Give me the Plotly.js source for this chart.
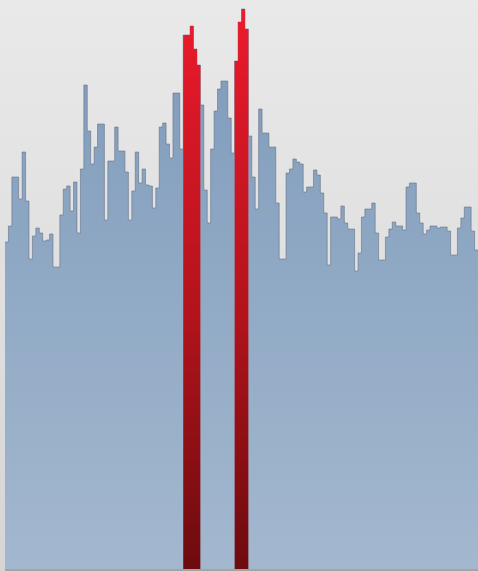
<!DOCTYPE html>
<html>
<head>
<meta charset="utf-8">
<script src="https://cdn.plot.ly/plotly-3.0.1.min.js"></script>
<style>
  html, body { margin: 0; padding: 0; }
  #chart { width: 478px; height: 571px; background: linear-gradient(#e9e9e9, #d6d6d6); }
</style>
</head>
<body>
<div id="chart"></div>
<script>
// Bin indices (categories)
const bins = Array.from({length: 138}, (_, i) => i);

// Bar values
const counts = [
  327, 343, 392, 392, 370, 417, 368, 310, 333, 341,
  336, 328, 329, 335, 302, 302, 354, 380, 383, 358,
  387, 336, 400, 484, 438, 405, 422, 445, 445, 349,
  408, 408, 442, 418, 418, 397, 349, 378, 417, 386,
  400, 384, 383, 361, 381, 442, 446, 425, 411, 476,
  476, 420, 534, 534, 543, 520, 504, 464, 379, 346,
  420, 458, 480, 488, 488, 451, 416, 508, 547, 560,
  540, 433, 392, 360, 460, 436, 436, 422, 422, 366,
  310, 310, 396, 400, 410, 407, 405, 377, 382, 382,
  399, 394, 376, 356, 304, 352, 352, 350, 363, 346,
  340, 340, 298, 316, 352, 360, 360, 366, 336, 309,
  309, 332, 340, 347, 343, 343, 339, 382, 386, 386,
  356, 346, 335, 339, 343, 343, 341, 342, 342, 338,
  314, 314, 341, 351, 362, 362, 338, 319
];

// Highlighted (red) bins
const highlighted = [52, 53, 54, 55, 56, 67, 68, 69, 70];

const yMax = 569;

// step edges: each bin drawn from its left edge to the next edge
const edgesX = bins.concat([bins.length]);
const blueY = counts.concat([counts[counts.length - 1]]);
const redVals = bins.map(i => highlighted.includes(i) ? counts[i] : 0);
const redY = redVals.concat([0]);

const blue = {
  type: 'scatter', mode: 'lines',
  x: edgesX, y: blueY,
  line: {shape: 'hv', color: 'rgba(95,108,128,0.55)', width: 1},
  fill: 'tozeroy',
  fillgradient: {type: 'vertical', start: 0, stop: yMax,
    colorscale: [[0, '#a3b8cf'], [1, '#7d9aba']]},
  hoverinfo: 'skip'
};

const red = {
  type: 'scatter', mode: 'lines',
  x: edgesX, y: redY,
  line: {shape: 'hv', color: 'rgba(0,0,0,0)', width: 0},
  fill: 'tozeroy',
  fillgradient: {type: 'vertical', start: 0, stop: yMax,
    colorscale: [[0, '#6c0b0e'], [0.45, '#b3131c'], [1, '#ee1a2c']]},
  hoverinfo: 'skip'
};

const layout = {
  width: 478, height: 571,
  margin: {l: 5, r: 0, t: 0, b: 2, pad: 0},
  paper_bgcolor: 'rgba(0,0,0,0)',
  plot_bgcolor: 'rgba(0,0,0,0)',
  showlegend: false,
  xaxis: {range: [0, bins.length], showgrid: false, zeroline: false,
    showticklabels: false, ticks: '', showline: true, linecolor: '#a4a4a4', linewidth: 2, fixedrange: true},
  yaxis: {range: [0, yMax], showgrid: false, zeroline: false,
    showticklabels: false, ticks: '', showline: false, fixedrange: true}
};

Plotly.newPlot('chart', [blue, red], layout, {displayModeBar: false, staticPlot: true});
</script>
</body>
</html>
